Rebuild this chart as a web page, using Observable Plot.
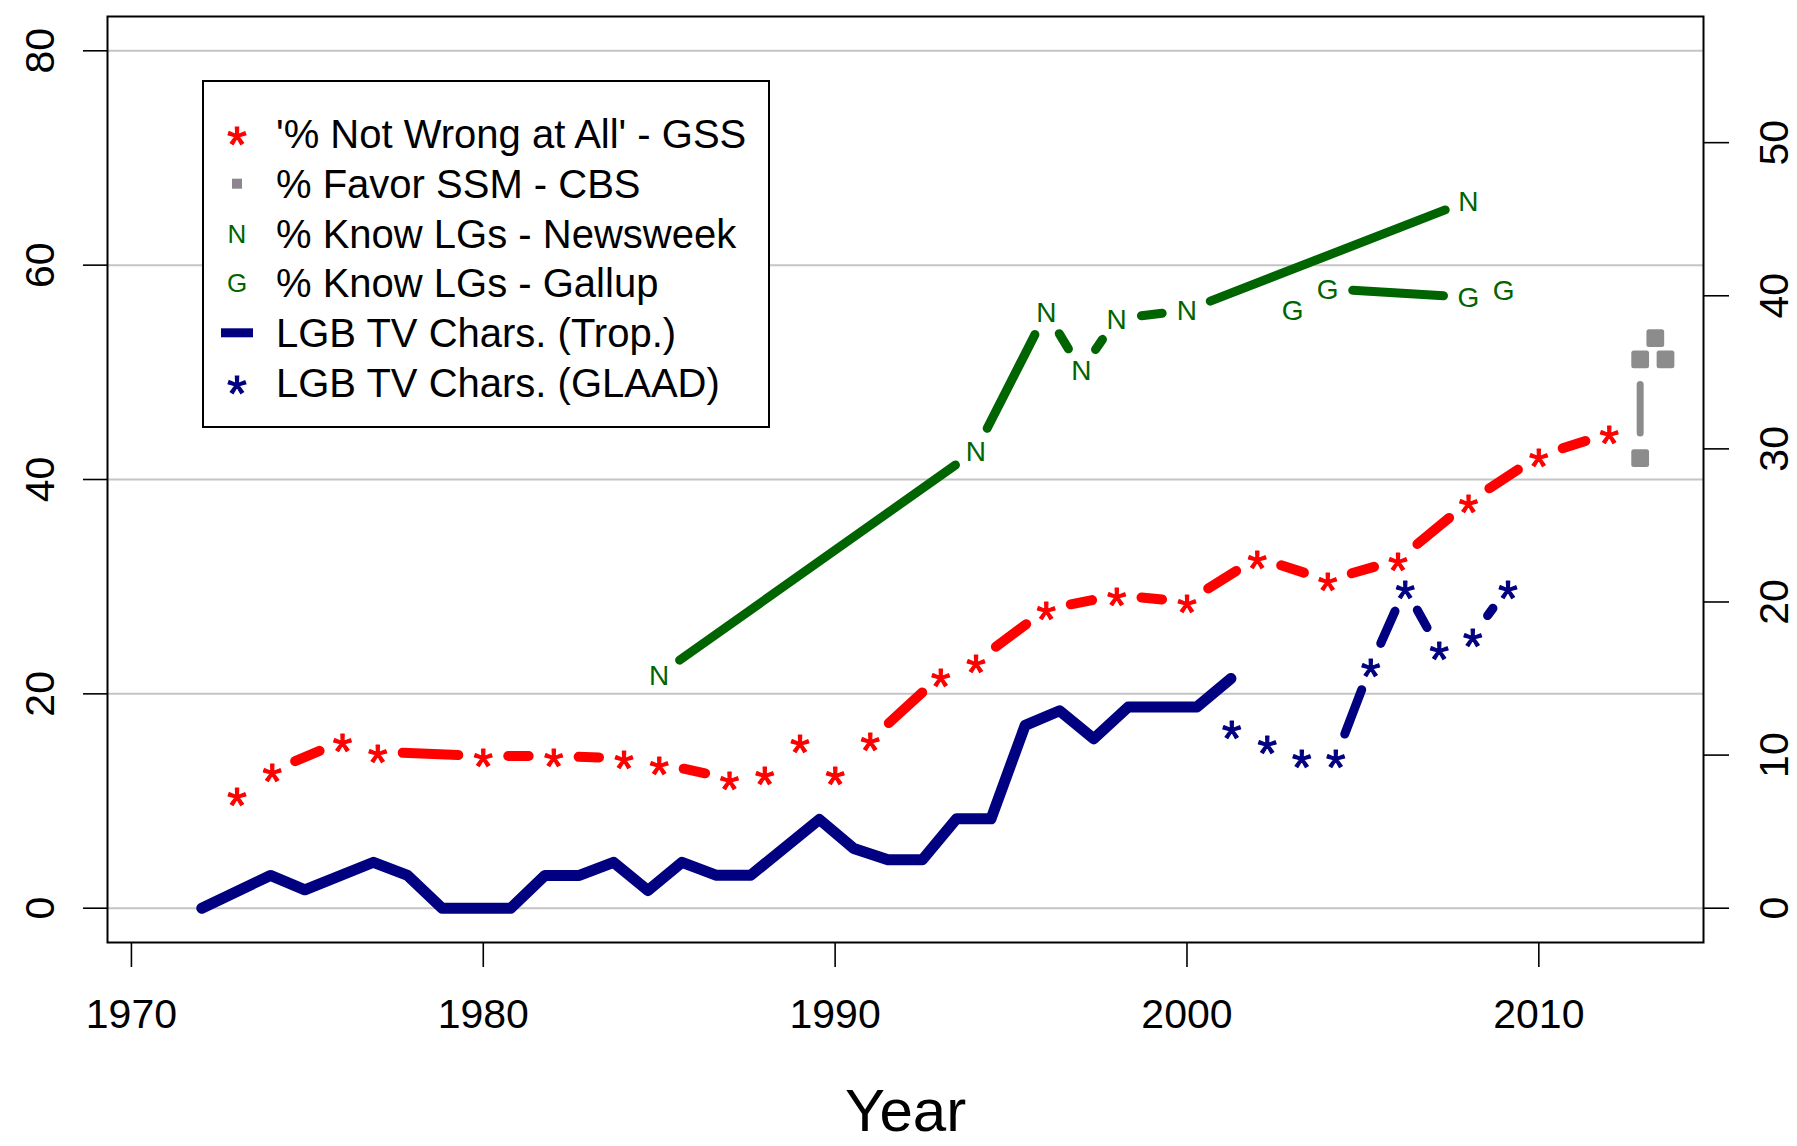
<!DOCTYPE html>
<html>
<head>
<meta charset="utf-8">
<script src="https://cdn.jsdelivr.net/npm/d3@7"></script>
<script src="https://cdn.jsdelivr.net/npm/@observablehq/plot@0.6"></script>
<style>
  html, body { margin: 0; padding: 0; background: #fff; }
  #wrap { position: relative; width: 1797px; height: 1146px; overflow: visible; }
  #wrap > svg.chart { position: absolute; left: 0; top: 0; }
  #wrap > svg#legend { position: absolute; left: 202px; top: 80px; }
</style>
</head>
<body>
<div id="wrap"></div>
<script>
// ---------------- data ----------------
const gssYears = [1973,1974,1976,1977,1980,1982,1984,1985,1987,1988,1989,1990,1991,1993,1994,1996,1998,2000,2002,2004,2006,2008,2010,2012];
const gssNotWrong = [10.6,12.8,15.6,14.6,14.2,14.2,14.0,13.5,12.1,12.5,15.5,12.5,15.7,21.7,23.0,27.9,29.2,28.6,32.7,30.6,32.5,37.9,42.2,44.3];

const cbsYears = [2012.88,2012.88,2013.31,2013.6];
const cbsFavor = [42.0,51.2,53.2,51.2];

const newsweekYears = [1985,1994,1996,1997,1998,2000,2008];
const newsweekKnow = [21.8,42.7,55.6,50.2,55.0,55.8,66.0];

const gallupYears = [2003,2004,2008,2009];
const gallupKnow = [55.8,57.8,57.0,57.7];

// right-hand axis series
const tropYears = [1972.00,1973.95,1974.93,1976.88,1977.85,1978.83,1979.80,1980.78,1981.75,1982.73,1983.70,1984.68,1985.65,1986.63,1987.60,1989.55,1990.53,1991.50,1992.48,1993.45,1994.43,1995.40,1996.38,1997.35,1998.33,1999.30,2000.28,2001.25];
const tropChars = [0,2.14,1.2,3.0,2.14,0,0,0,2.14,2.14,3.0,1.15,3.0,2.15,2.15,5.8,3.9,3.16,3.16,5.84,5.84,11.94,12.9,11.07,13.14,13.14,13.14,15.0];

const glaadYears = [2001.27,2002.28,2003.26,2004.23,2005.22,2006.2,2007.17,2008.12,2009.12];
const glaadChars = [11.8,10.8,9.85,9.85,15.8,20.9,16.9,17.8,20.9];

const xTicks = [1970,1980,1990,2000,2010];
const leftTicks = [0,20,40,60,80];
const rightTicks = [0,10,20,30,40,50];

const seriesNames = ["'% Not Wrong at All' - GSS","% Favor SSM - CBS","% Know LGs - Newsweek","% Know LGs - Gallup","LGB TV Chars. (Trop.)","LGB TV Chars. (GLAAD)"];
const seriesColors = ["#ff0000","#8e8590","#006400","#006400","#000080","#000080"];
const seriesSymbols = ["*","square","N","G","line","*"];

// ---------------- layout ----------------
const FONT = "'Liberation Sans', Arial, sans-serif";
const W = 1797, H = 1146, ML = 107, MR = 94, MT = 16, MB = 204;
const xDomain = [1969.32, 2014.68];
const yDomain = [-3.2, 83.2];
const RIGHT = 0.7;            // right-axis units per left-axis unit
const GAP = 25;               // pixel gap around points (type = "b")
const STAR = 50;

const sx = (W - ML - MR) / (xDomain[1] - xDomain[0]);
const sy = (H - MT - MB) / (yDomain[1] - yDomain[0]);

function pts(xs, ys, k = 1) { return xs.map((x, i) => ({x, y: ys[i] * k})); }
function gapped(data) {
  const segs = [];
  for (let i = 0; i < data.length - 1; i++) {
    const a = data[i], b = data[i + 1];
    const L = Math.hypot((b.x - a.x) * sx, (b.y - a.y) * sy);
    if (L <= 2 * GAP) continue;
    const f = GAP / L;
    segs.push({x1: a.x + (b.x - a.x) * f, y1: a.y + (b.y - a.y) * f,
               x2: b.x - (b.x - a.x) * f, y2: b.y - (b.y - a.y) * f});
  }
  return segs;
}
const seg = (data, stroke, w) => Plot.link(gapped(data), {x1: "x1", y1: "y1", x2: "x2", y2: "y2", stroke, strokeWidth: w, strokeLinecap: "round"});
const chr = (data, t, fill, size, dy, sw = 0) => Plot.text(data, {x: "x", y: "y", text: () => t, fill, stroke: sw ? fill : undefined, strokeWidth: sw, fontSize: size, dy, fontFamily: FONT});

const gss = pts(gssYears, gssNotWrong);
const cbs = pts(cbsYears, cbsFavor);
const nw = pts(newsweekYears, newsweekKnow);
const ga = pts(gallupYears, gallupKnow);
const trop = pts(tropYears, tropChars, 1 / RIGHT);
const glaad = pts(glaadYears, glaadChars, 1 / RIGHT);

const plot = Plot.plot({
  width: W, height: H,
  marginLeft: ML, marginRight: MR, marginTop: MT, marginBottom: MB,
  x: {domain: xDomain},
  y: {domain: yDomain},
  style: {fontFamily: FONT, background: "#fff", color: "#000", overflow: "visible"},
  marks: [
    Plot.gridY(leftTicks, {stroke: "#c4c4c4", strokeOpacity: 1, strokeWidth: 2}),
    // GSS
    seg(gss, "#ff0000", 10),
    chr(gss, "*", "#ff0000", STAR, 12, 1.2),
    // CBS
    seg(cbs, "#8c8c8c", 7),
    Plot.dot(cbs, {x: "x", y: "y", symbol: "square", r: 7.2, fill: "#8c8c8c", stroke: "#8c8c8c", strokeWidth: 5, strokeLinejoin: "round"}),
    // Newsweek
    seg(nw, "#006400", 9),
    chr(nw, "N", "#006400", 28, 1),
    // Gallup
    seg(ga, "#006400", 9),
    chr(ga, "G", "#006400", 28, 1),
    // TV characters (right axis)
    Plot.line(trop, {x: "x", y: "y", stroke: "#000080", strokeWidth: 11, strokeLinejoin: "round", strokeLinecap: "round"}),
    seg(glaad, "#000080", 9),
    chr(glaad, "*", "#000080", STAR, 12, 1.2),
    // frame and axes
    Plot.frame({stroke: "#000", strokeWidth: 2}),
    Plot.axisX(xTicks, {anchor: "bottom", tickSize: 25, tickFormat: () => "", label: null, strokeWidth: 1.6}),
    Plot.axisY(leftTicks, {anchor: "left", tickSize: 24, tickFormat: () => "", label: null, strokeWidth: 1.6}),
    Plot.axisY(rightTicks.map(r => r / RIGHT), {anchor: "right", tickSize: 25, tickFormat: () => "", label: null, strokeWidth: 1.6}),
    Plot.text(xTicks, {x: d => d, frameAnchor: "bottom", dy: 85, text: d => String(d), fontSize: 41, fill: "#000"}),
    Plot.text(leftTicks, {y: d => d, frameAnchor: "left", dx: -67, rotate: -90, textAnchor: "middle", lineAnchor: "middle", text: d => String(d), fontSize: 41, fill: "#000"}),
    Plot.text(rightTicks, {y: d => d / RIGHT, frameAnchor: "right", dx: 71, rotate: -90, textAnchor: "middle", lineAnchor: "middle", text: d => String(d), fontSize: 41, fill: "#000"}),
    Plot.text(["Year"], {frameAnchor: "bottom", dy: 188, text: d => d, fontSize: 60, fill: "#000"})
  ]
});
plot.classList.add("chart");
document.getElementById("wrap").appendChild(plot);

// ---------------- legend (inside the plot area, white background) ----------------
const LW = 568, LH = 348;
const lg = d3.select("#wrap").append("svg").attr("id", "legend").attr("width", LW).attr("height", LH)
  .style("font-family", FONT);
lg.append("rect").attr("x", 1).attr("y", 1).attr("width", LW - 2).attr("height", LH - 2)
  .attr("fill", "#fff").attr("stroke", "#000").attr("stroke-width", 2);
seriesNames.forEach((name, i) => {
  const cy = 54 + i * 49.7, sxc = 35, col = seriesColors[i], sym = seriesSymbols[i];
  const g = lg.append("g");
  if (sym === "*") {
    g.append("text").attr("x", sxc).attr("y", cy + 0.566 * STAR).attr("text-anchor", "middle")
      .attr("font-size", STAR).attr("fill", col).attr("stroke", col).attr("stroke-width", 1.2).text("*");
  } else if (sym === "square") {
    g.append("rect").attr("x", sxc - 5).attr("y", cy - 5).attr("width", 10).attr("height", 10).attr("fill", col);
  } else if (sym === "line") {
    g.append("line").attr("x1", sxc - 16).attr("x2", sxc + 16).attr("y1", cy).attr("y2", cy)
      .attr("stroke", col).attr("stroke-width", 9);
  } else {
    g.append("text").attr("x", sxc).attr("y", cy + 0.358 * 26).attr("text-anchor", "middle")
      .attr("font-size", 26).attr("fill", col).text(sym);
  }
  g.append("text").attr("x", 74).attr("y", cy + 0.358 * 40).attr("font-size", 40).attr("fill", "#000").text(name);
});
</script>
</body>
</html>
